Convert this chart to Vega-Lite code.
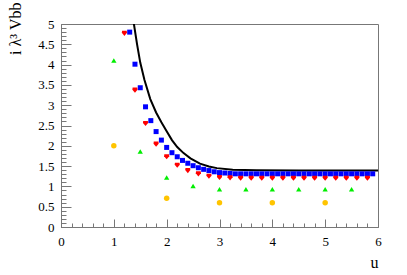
{
  "$schema": "https://vega.github.io/schema/vega-lite/v6.json",
  "width": 317,
  "height": 203,
  "autosize": "none",
  "padding": {"left": 61, "top": 24, "right": 29, "bottom": 48},
  "background": "white",
  "config": {
    "view": {"stroke": "#777", "strokeWidth": 1},
    "font": "Liberation Serif"
  },
  "datasets": {
    "curve": [
      {"u": 1.34, "v": 5.3}, {"u": 1.38, "v": 5.0}, {"u": 1.44, "v": 4.5}, {"u": 1.5, "v": 4.05},
      {"u": 1.58, "v": 3.62}, {"u": 1.69, "v": 3.15}, {"u": 1.8, "v": 2.82}, {"u": 1.9, "v": 2.58},
      {"u": 2.0, "v": 2.36}, {"u": 2.1, "v": 2.14}, {"u": 2.2, "v": 1.97}, {"u": 2.32, "v": 1.82},
      {"u": 2.45, "v": 1.69}, {"u": 2.63, "v": 1.56}, {"u": 2.8, "v": 1.49}, {"u": 2.95, "v": 1.45},
      {"u": 3.25, "v": 1.41}, {"u": 3.7, "v": 1.395}, {"u": 4.5, "v": 1.39}, {"u": 5.0, "v": 1.39},
      {"u": 6.0, "v": 1.39}
    ],
    "pts": [
      {"u": 1.3, "v": 4.80, "s": "blue"}, {"u": 1.4, "v": 4.01, "s": "blue"}, {"u": 1.5, "v": 3.43, "s": "blue"},
      {"u": 1.6, "v": 2.96, "s": "blue"}, {"u": 1.7, "v": 2.62, "s": "blue"}, {"u": 1.8, "v": 2.35, "s": "blue"},
      {"u": 1.9, "v": 2.14, "s": "blue"}, {"u": 2.0, "v": 1.96, "s": "blue"}, {"u": 2.1, "v": 1.83, "s": "blue"},
      {"u": 2.2, "v": 1.73, "s": "blue"}, {"u": 2.3, "v": 1.64, "s": "blue"}, {"u": 2.4, "v": 1.57, "s": "blue"},
      {"u": 2.5, "v": 1.51, "s": "blue"}, {"u": 2.6, "v": 1.46, "s": "blue"}, {"u": 2.7, "v": 1.42, "s": "blue"},
      {"u": 2.8, "v": 1.39, "s": "blue"}, {"u": 2.9, "v": 1.36, "s": "blue"}, {"u": 3.0, "v": 1.34, "s": "blue"},
      {"u": 3.1, "v": 1.33, "s": "blue"}, {"u": 3.2, "v": 1.32, "s": "blue"}, {"u": 3.3, "v": 1.31, "s": "blue"},
      {"u": 3.4, "v": 1.31, "s": "blue"}, {"u": 3.5, "v": 1.31, "s": "blue"}, {"u": 3.6, "v": 1.31, "s": "blue"},
      {"u": 3.7, "v": 1.31, "s": "blue"}, {"u": 3.8, "v": 1.31, "s": "blue"}, {"u": 3.9, "v": 1.31, "s": "blue"},
      {"u": 4.0, "v": 1.31, "s": "blue"}, {"u": 4.1, "v": 1.31, "s": "blue"}, {"u": 4.2, "v": 1.31, "s": "blue"},
      {"u": 4.3, "v": 1.31, "s": "blue"}, {"u": 4.4, "v": 1.31, "s": "blue"}, {"u": 4.5, "v": 1.31, "s": "blue"},
      {"u": 4.6, "v": 1.31, "s": "blue"}, {"u": 4.7, "v": 1.31, "s": "blue"}, {"u": 4.8, "v": 1.31, "s": "blue"},
      {"u": 4.9, "v": 1.31, "s": "blue"}, {"u": 5.0, "v": 1.31, "s": "blue"}, {"u": 5.1, "v": 1.31, "s": "blue"},
      {"u": 5.2, "v": 1.31, "s": "blue"}, {"u": 5.3, "v": 1.31, "s": "blue"}, {"u": 5.4, "v": 1.31, "s": "blue"},
      {"u": 5.5, "v": 1.31, "s": "blue"}, {"u": 5.6, "v": 1.31, "s": "blue"}, {"u": 5.7, "v": 1.31, "s": "blue"},
      {"u": 5.8, "v": 1.31, "s": "blue"}, {"u": 5.9, "v": 1.31, "s": "blue"},
      {"u": 1.2, "v": 4.77, "s": "red"}, {"u": 1.4, "v": 3.37, "s": "red"}, {"u": 1.6, "v": 2.55, "s": "red"},
      {"u": 1.8, "v": 2.04, "s": "red"}, {"u": 2.0, "v": 1.73, "s": "red"}, {"u": 2.2, "v": 1.52, "s": "red"},
      {"u": 2.4, "v": 1.39, "s": "red"}, {"u": 2.6, "v": 1.31, "s": "red"}, {"u": 2.8, "v": 1.25, "s": "red"},
      {"u": 3.0, "v": 1.22, "s": "red"}, {"u": 3.2, "v": 1.21, "s": "red"}, {"u": 3.4, "v": 1.2, "s": "red"},
      {"u": 3.6, "v": 1.2, "s": "red"}, {"u": 3.8, "v": 1.2, "s": "red"}, {"u": 4.0, "v": 1.2, "s": "red"},
      {"u": 4.2, "v": 1.2, "s": "red"}, {"u": 4.4, "v": 1.2, "s": "red"}, {"u": 4.6, "v": 1.2, "s": "red"},
      {"u": 4.8, "v": 1.2, "s": "red"}, {"u": 5.0, "v": 1.2, "s": "red"}, {"u": 5.2, "v": 1.2, "s": "red"},
      {"u": 5.4, "v": 1.2, "s": "red"}, {"u": 5.6, "v": 1.2, "s": "red"}, {"u": 5.8, "v": 1.2, "s": "red"},
      {"u": 1.0, "v": 4.1, "s": "green"}, {"u": 1.5, "v": 1.86, "s": "green"}, {"u": 2.0, "v": 1.22, "s": "green"},
      {"u": 2.5, "v": 1.01, "s": "green"}, {"u": 3.0, "v": 0.93, "s": "green"}, {"u": 3.5, "v": 0.93, "s": "green"},
      {"u": 4.0, "v": 0.93, "s": "green"}, {"u": 4.5, "v": 0.93, "s": "green"}, {"u": 5.0, "v": 0.93, "s": "green"},
      {"u": 5.5, "v": 0.93, "s": "green"},
      {"u": 1.0, "v": 2.0, "s": "orange"}, {"u": 2.0, "v": 0.71, "s": "orange"}, {"u": 3.0, "v": 0.6, "s": "orange"},
      {"u": 4.0, "v": 0.6, "s": "orange"}, {"u": 5.0, "v": 0.6, "s": "orange"}
    ]
  },
  "encoding": {
    "x": {
      "field": "u", "type": "quantitative",
      "scale": {"domain": [0, 6], "nice": false, "zero": false},
      "axis": {
        "values": [0,0.2,0.4,0.6,0.8,1,1.2,1.4,1.6,1.8,2,2.2,2.4,2.6,2.8,3,3.2,3.4,3.6,3.8,4,4.2,4.4,4.6,4.8,5,5.2,5.4,5.6,5.8,6],
        "format": "~g",
        "labelExpr": "abs(datum.value-round(datum.value))<0.001 ? datum.label : ''",
        "tickSize": {"condition": {"test": "abs(datum.value-round(datum.value))<0.001", "value": -8}, "value": -4},
        "labelPadding": 16,
        "labelFlush": false,
        "labelOverlap": false,
        "labelFontSize": 13,
        "labelFont": "Liberation Serif",
        "labelColor": "black",
        "grid": false,
        "domainColor": "#777",
        "tickColor": "#777",
        "title": "u",
        "titleAnchor": "end",
        "titleFont": "Liberation Serif",
        "titleFontSize": 16,
        "titleFontWeight": "normal",
        "titleColor": "black",
        "titlePadding": 2
      }
    },
    "y": {
      "field": "v", "type": "quantitative",
      "scale": {"domain": [0, 5], "nice": false, "zero": false},
      "axis": {
        "values": [0,0.1,0.2,0.3,0.4,0.5,0.6,0.7,0.8,0.9,1,1.1,1.2,1.3,1.4,1.5,1.6,1.7,1.8,1.9,2,2.1,2.2,2.3,2.4,2.5,2.6,2.7,2.8,2.9,3,3.1,3.2,3.3,3.4,3.5,3.6,3.7,3.8,3.9,4,4.1,4.2,4.3,4.4,4.5,4.6,4.7,4.8,4.9,5],
        "format": "~g",
        "labelExpr": "abs(datum.value*2-round(datum.value*2))<0.001 ? datum.label : ''",
        "tickSize": {"condition": {"test": "abs(datum.value*2-round(datum.value*2))<0.001", "value": -10}, "value": -5},
        "labelPadding": 17,
        "labelFlush": false,
        "labelOverlap": false,
        "labelFontSize": 13,
        "labelFont": "Liberation Serif",
        "labelColor": "black",
        "grid": false,
        "domainColor": "#777",
        "tickColor": "#777",
        "title": "i λ³ Vbb",
        "titleAnchor": "end",
        "titleY": -22,
        "titleFont": "Liberation Serif",
        "titleFontSize": 16,
        "titleFontWeight": "normal",
        "titleColor": "black",
        "titlePadding": 14
      }
    }
  },
  "layer": [
    {
      "data": {"name": "curve"},
      "mark": {"type": "line", "color": "black", "strokeWidth": 2, "clip": true}
    },
    {
      "data": {"name": "pts"},
      "mark": {"type": "point", "filled": true, "opacity": 1, "clip": true},
      "encoding": {
        "color": {
          "field": "s", "type": "nominal", "legend": null,
          "scale": {"domain": ["blue", "red", "green", "orange"], "range": ["#0000ff", "#ff0000", "#00ee00", "#ffc400"]}
        },
        "shape": {
          "field": "s", "type": "nominal", "legend": null,
          "scale": {"domain": ["blue", "red", "green", "orange"], "range": ["square", "M-0.9,-1 L0.9,-1 L1,-0.2 L0,1 L-1,-0.2 Z", "triangle-up", "circle"]}
        },
        "size": {
          "field": "s", "type": "nominal", "legend": null,
          "scale": {"domain": ["blue", "red", "green", "orange"], "range": [25, 30, 32, 36]}
        }
      }
    }
  ]
}
